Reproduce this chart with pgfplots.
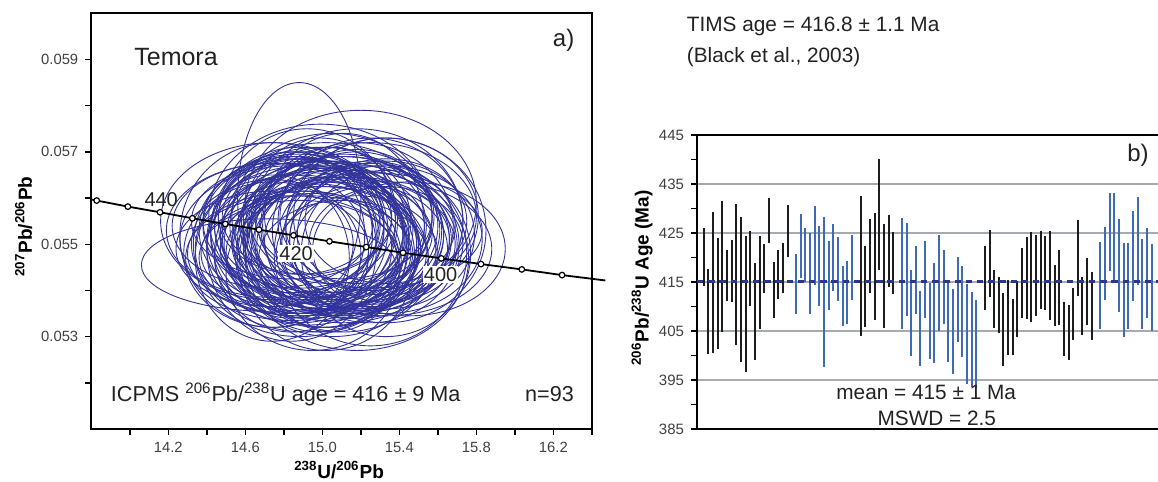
\documentclass[border=0pt]{standalone}
\usepackage{pgfplots}
\pgfplotsset{compat=1.18}
\usepackage{pgfplotstable}
\usepackage{fontspec}
\setmainfont{Liberation Sans}

\definecolor{ellc}{HTML}{31339A}
\definecolor{barK}{HTML}{1C1C1C}
\definecolor{barB}{HTML}{3F6AB8}
\definecolor{meanc}{HTML}{2B3590}
\definecolor{gridc}{HTML}{A7ABB0}
\definecolor{txt}{HTML}{222222}

\pgfplotstableread{
x lo hi
704.0 414.1 426.1
708.3 400.4 417.6
713.0 400.6 429.2
717.7 401.3 424.0
722.3 404.8 431.5
727.0 411.2 421.5
731.7 411.0 423.5
736.3 402.2 430.9
741.0 398.6 428.2
745.7 396.7 424.4
750.3 410.0 425.5
755.0 399.1 418.9
759.7 405.5 424.4
764.3 412.7 422.8
769.0 422.9 432.2
773.7 407.7 419.1
778.3 411.5 421.5
783.0 412.7 422.9
787.7 420.1 430.7
860.7 404.0 432.6
865.3 405.8 422.3
870.0 412.8 427.9
874.7 407.2 429.0
879.3 417.4 440.0
884.0 405.7 426.8
888.7 414.0 428.7
893.3 412.5 425.3
985.0 409.3 422.3
989.7 412.0 425.6
994.0 405.7 417.4
998.7 404.5 416.1
1003.3 397.9 412.7
1008.0 400.2 415.5
1012.7 400.2 411.6
1017.3 403.8 415.2
1022.0 407.6 422.0
1026.7 407.4 424.2
1031.3 406.9 425.3
1036.0 408.1 424.6
1040.7 409.5 425.5
1045.3 409.3 424.3
1050.0 407.3 425.4
1054.7 406.0 418.5
1059.3 406.2 421.5
1064.0 399.8 411.0
1068.7 399.1 410.3
1073.0 403.2 413.8
1077.7 412.2 427.7
1082.3 404.2 416.1
1087.0 406.2 419.8
1091.7 403.2 417.1
}\barsK

\pgfplotstableread{
x lo hi
796.3 408.4 420.7
800.7 415.9 428.8
805.3 415.1 426.0
810.0 408.4 425.1
814.7 414.3 430.5
819.3 410.1 426.5
824.0 397.7 428.2
828.7 409.3 423.4
833.3 413.2 426.8
838.0 411.1 424.1
842.7 406.0 418.3
847.3 406.4 419.2
852.0 411.4 424.6
902.0 405.4 428.0
906.7 408.0 427.0
911.3 399.9 417.4
916.0 408.5 422.4
920.3 397.9 413.2
925.0 407.7 423.4
929.7 399.3 414.8
934.3 398.5 418.9
939.0 404.9 424.5
943.7 406.4 421.6
948.3 398.6 415.5
953.0 396.2 413.5
957.7 402.8 420.0
962.3 399.6 418.3
967.0 394.1 414.5
971.7 393.6 413.0
976.3 393.3 411.4
1100.3 405.5 423.1
1105.0 411.3 426.3
1109.7 417.2 433.1
1114.3 414.7 433.2
1119.0 408.8 427.8
1123.7 403.8 423.0
1128.3 405.5 423.0
1133.0 411.1 429.4
1137.7 414.3 432.4
1142.3 405.5 423.8
1147.0 407.6 426.1
1151.7 405.1 422.8
}\barsB

% ellipse: centre x, centre y (x1000), x radius, y radius (x1000)
\newcommand\E[4]{\draw[ellc, line width=0.45pt] (axis cs:#1,#2) ellipse [x radius=#3, y radius=#4];}

\begin{document}
\begin{tikzpicture}[x=1pt,y=1pt]
\useasboundingbox (0,0) rectangle (579,241);

% ---------------- panel a ----------------
\begin{axis}[
  at={(45.65pt,26.5pt)}, anchor=south west,
  scale only axis, width=250.3pt, height=207.85pt,
  xmin=13.8, xmax=16.4, ymin=51, ymax=60,
  xtick={14.2,14.6,15.0,15.4,15.8,16.2},
  xticklabels={14.2,14.6,15.0,15.4,15.8,16.2},
  minor xtick={14.0,14.4,14.8,15.2,15.6,16.0,16.4},
  ytick={53,55,57,59}, yticklabels={0.053,0.055,0.057,0.059},
  minor ytick={52,54,56,58},
  tick align=outside, tick pos=left,
  major tick length=3pt, minor tick length=3pt,
  every tick/.style={black, line width=0.7pt},
  axis line style={line width=1.1pt},
  tick label style={font=\fontsize{7.4}{8}\selectfont, text=black!75},
  clip=false,
  xlabel={\bfseries\textsuperscript{238}U/\textsuperscript{206}Pb},
  ylabel={\bfseries\textsuperscript{207}Pb/\textsuperscript{206}Pb},
  xlabel style={at={(axis description cs:0.495,-0.098)}, anchor=center, font=\fontsize{9.5}{11}\selectfont},
  ylabel style={at={(axis description cs:-0.135,0.487)}, anchor=center, rotate=0, font=\fontsize{9.5}{11}\selectfont},
]
\E{14.74}{55.00}{0.42}{1.35}\E{14.84}{55.30}{0.48}{1.60}\E{14.92}{54.80}{0.55}{1.25}
\E{14.99}{55.50}{0.40}{1.80}\E{15.05}{54.90}{0.46}{1.45}\E{15.11}{55.20}{0.52}{1.70}
\E{15.18}{54.70}{0.58}{2.00}\E{15.25}{55.40}{0.44}{1.35}\E{15.33}{55.10}{0.50}{1.60}
\E{14.88}{55.60}{0.42}{1.25}\E{15.02}{55.00}{0.48}{1.80}\E{14.74}{55.30}{0.55}{1.45}
\E{14.84}{54.80}{0.40}{1.70}\E{14.92}{55.50}{0.46}{2.00}\E{14.99}{54.90}{0.52}{1.35}
\E{15.05}{55.20}{0.58}{1.60}\E{15.11}{54.70}{0.44}{1.25}\E{15.18}{55.40}{0.50}{1.80}
\E{15.25}{55.10}{0.42}{1.45}\E{15.33}{55.60}{0.48}{1.70}\E{14.88}{55.00}{0.55}{2.00}
\E{15.02}{55.30}{0.40}{1.35}\E{14.74}{54.80}{0.46}{1.60}\E{14.84}{55.50}{0.52}{1.25}
\E{14.92}{54.90}{0.58}{1.80}\E{14.99}{55.20}{0.44}{1.45}\E{15.05}{54.70}{0.50}{1.70}
\E{15.11}{55.40}{0.42}{2.00}\E{15.18}{55.10}{0.48}{1.35}\E{15.25}{55.60}{0.55}{1.60}
\E{15.33}{55.00}{0.40}{1.25}\E{14.88}{55.30}{0.46}{1.80}\E{15.02}{54.80}{0.52}{1.45}
\E{14.74}{55.50}{0.58}{1.70}\E{14.84}{54.90}{0.44}{2.00}\E{14.92}{55.20}{0.50}{1.35}
\E{14.99}{54.70}{0.42}{1.60}\E{15.05}{55.40}{0.48}{1.25}\E{15.11}{55.10}{0.55}{1.80}
\E{15.18}{55.60}{0.40}{1.45}\E{15.25}{55.00}{0.46}{1.70}\E{15.33}{55.30}{0.52}{2.00}
\E{14.88}{54.80}{0.58}{1.35}\E{15.02}{55.50}{0.44}{1.60}\E{14.74}{54.90}{0.50}{1.25}
\E{14.84}{55.20}{0.42}{1.80}\E{14.92}{54.70}{0.48}{1.45}\E{14.99}{55.40}{0.55}{1.70}
\E{15.05}{55.10}{0.40}{2.00}\E{15.11}{55.60}{0.46}{1.35}\E{15.18}{55.00}{0.52}{1.60}
\E{15.25}{55.30}{0.58}{1.25}\E{15.33}{54.80}{0.44}{1.80}\E{14.88}{55.50}{0.50}{1.45}
\E{15.02}{54.90}{0.42}{1.70}\E{14.74}{55.20}{0.48}{2.00}\E{14.84}{54.70}{0.55}{1.35}
\E{14.92}{55.40}{0.40}{1.60}\E{14.99}{55.10}{0.46}{1.25}\E{15.05}{55.60}{0.52}{1.80}
\E{15.11}{55.00}{0.58}{1.45}\E{15.18}{55.30}{0.44}{1.70}\E{15.25}{54.80}{0.50}{2.00}
\E{15.33}{55.50}{0.42}{1.35}\E{14.88}{54.90}{0.48}{1.60}\E{15.02}{55.20}{0.55}{1.25}
\E{14.74}{54.70}{0.40}{1.80}\E{14.84}{55.40}{0.46}{1.45}\E{14.92}{55.10}{0.52}{1.70}
\E{14.99}{55.60}{0.58}{2.00}\E{15.05}{55.00}{0.44}{1.35}\E{15.11}{55.30}{0.50}{1.60}
\E{15.18}{54.80}{0.42}{1.25}\E{15.25}{55.50}{0.48}{1.80}\E{15.33}{54.90}{0.55}{1.45}
\E{14.88}{55.20}{0.40}{1.70}\E{15.02}{54.70}{0.46}{2.00}\E{14.74}{55.40}{0.52}{1.35}
\E{14.84}{55.10}{0.58}{1.60}\E{14.92}{55.60}{0.44}{1.25}\E{14.99}{55.00}{0.50}{1.80}
\E{15.05}{55.30}{0.42}{1.45}\E{15.11}{54.80}{0.48}{1.70}\E{15.18}{55.50}{0.55}{2.00}
\E{15.25}{54.90}{0.40}{1.35}\E{15.33}{55.20}{0.46}{1.60}\E{14.88}{54.70}{0.52}{1.25}
\E{15.02}{55.40}{0.58}{1.80}
\E{14.88}{56.00}{0.32}{2.50}\E{14.72}{54.55}{0.66}{1.00}\E{15.20}{55.90}{0.60}{2.00}
\E{15.45}{54.90}{0.50}{1.45}\E{14.95}{54.40}{0.45}{1.70}
% concordia
\addplot[black, line width=0.9pt] coordinates {
(13.800,55.969) (13.828,55.946) (13.990,55.815) (14.157,55.692) (14.325,55.562)
(14.496,55.439) (14.671,55.316) (14.850,55.193) (15.037,55.063) (15.228,54.940)
(15.419,54.816) (15.618,54.694) (15.824,54.571) (16.036,54.455) (16.245,54.332)
(16.470,54.216)};
\addplot[only marks, mark=*, mark size=1.4pt, mark options={fill=white, draw=black, line width=0.6pt}] coordinates {
(13.828,55.946) (13.990,55.815) (14.157,55.692) (14.325,55.562)
(14.496,55.439) (14.671,55.316) (14.850,55.193) (15.037,55.063) (15.228,54.940)
(15.419,54.816) (15.618,54.694) (15.824,54.571) (16.036,54.455) (16.245,54.332)};
\node[font=\fontsize{10}{12}\selectfont, text=txt, inner sep=0.6pt] at (axis cs:14.163,55.968) {440};
\node[font=\fontsize{10}{12}\selectfont, text=txt, fill=white, inner sep=0.6pt] at (axis cs:14.864,54.795) {420};
\node[font=\fontsize{10}{12}\selectfont, text=txt, fill=white, inner sep=0.6pt] at (axis cs:15.614,54.339) {400};
\node[font=\fontsize{12.5}{14}\selectfont, text=txt] at (axis cs:14.24,59.05) {Temora};
\node[font=\fontsize{12}{14}\selectfont, text=txt] at (axis cs:16.253,59.42) {a)};
\node[font=\fontsize{10.8}{13}\selectfont, text=txt, anchor=west, inner sep=0pt] at (axis cs:13.9,51.75) {ICPMS \textsuperscript{206}Pb/\textsuperscript{238}U age = 416 ± 9 Ma};
\node[font=\fontsize{10.8}{13}\selectfont, text=txt, anchor=east, inner sep=0pt] at (axis cs:16.308,51.75) {n=93};
\end{axis}

% ---------------- panel b ----------------
\begin{axis}[
  at={(348.5pt,26.5pt)}, anchor=south west,
  scale only axis, width=232.5pt, height=147pt,
  xmin=697, xmax=1162, ymin=385, ymax=445,
  xtick=\empty,
  ytick={385,395,405,415,425,435,445},
  yticklabels={385,395,405,415,425,435,445},
  minor ytick={390,400,410,420,430,440},
  tick align=outside, ytick pos=left,
  major tick length=3pt, minor tick length=3pt,
  every tick/.style={black, line width=0.7pt},
  axis line style={line width=1.1pt},
  ymajorgrids=true,
  grid style={gridc, line width=0.8pt},
  tick label style={font=\fontsize{7.5}{8}\selectfont, text=black!75},
  ylabel={\bfseries\textsuperscript{206}Pb/\textsuperscript{238}U Age (Ma)},
  ylabel style={at={(axis description cs:-0.118,0.514)}, anchor=center, font=\fontsize{9.5}{11}\selectfont},
]
\addplot[draw=none, mark=none, forget plot,
  error bars/.cd, y dir=plus, y explicit, error mark=none,
  error bar style={draw=barK, line width=1pt, solid}]
  table[x=x, y=lo, y error expr=\thisrow{hi}-\thisrow{lo}] {\barsK};
\addplot[draw=none, mark=none, forget plot,
  error bars/.cd, y dir=plus, y explicit, error mark=none,
  error bar style={draw=barB, line width=1pt, solid}]
  table[x=x, y=lo, y error expr=\thisrow{hi}-\thisrow{lo}] {\barsB};
\addplot[meanc, line width=1.5pt, dash pattern=on 3.2pt off 2.4pt] coordinates {(697,415) (1162,415)};
\node[font=\fontsize{10.4}{12}\selectfont, text=txt] at (axis cs:926.2,392.4) {mean = 415 ± 1 Ma};
\node[font=\fontsize{10.4}{12}\selectfont, text=txt] at (axis cs:936.8,387.2) {MSWD = 2.5};
\node[font=\fontsize{12}{14}\selectfont, text=txt] at (axis cs:1138,440.9) {b)};
\end{axis}

\node[anchor=west, font=\fontsize{10.4}{12}\selectfont, text=txt, inner sep=0pt] at (343.25,227.65) {TIMS age = 416.8 ± 1.1 Ma};
\node[anchor=west, font=\fontsize{10.4}{12}\selectfont, text=txt, inner sep=0pt] at (343.25,212.65) {(Black et al., 2003)};
\end{tikzpicture}
\end{document}
